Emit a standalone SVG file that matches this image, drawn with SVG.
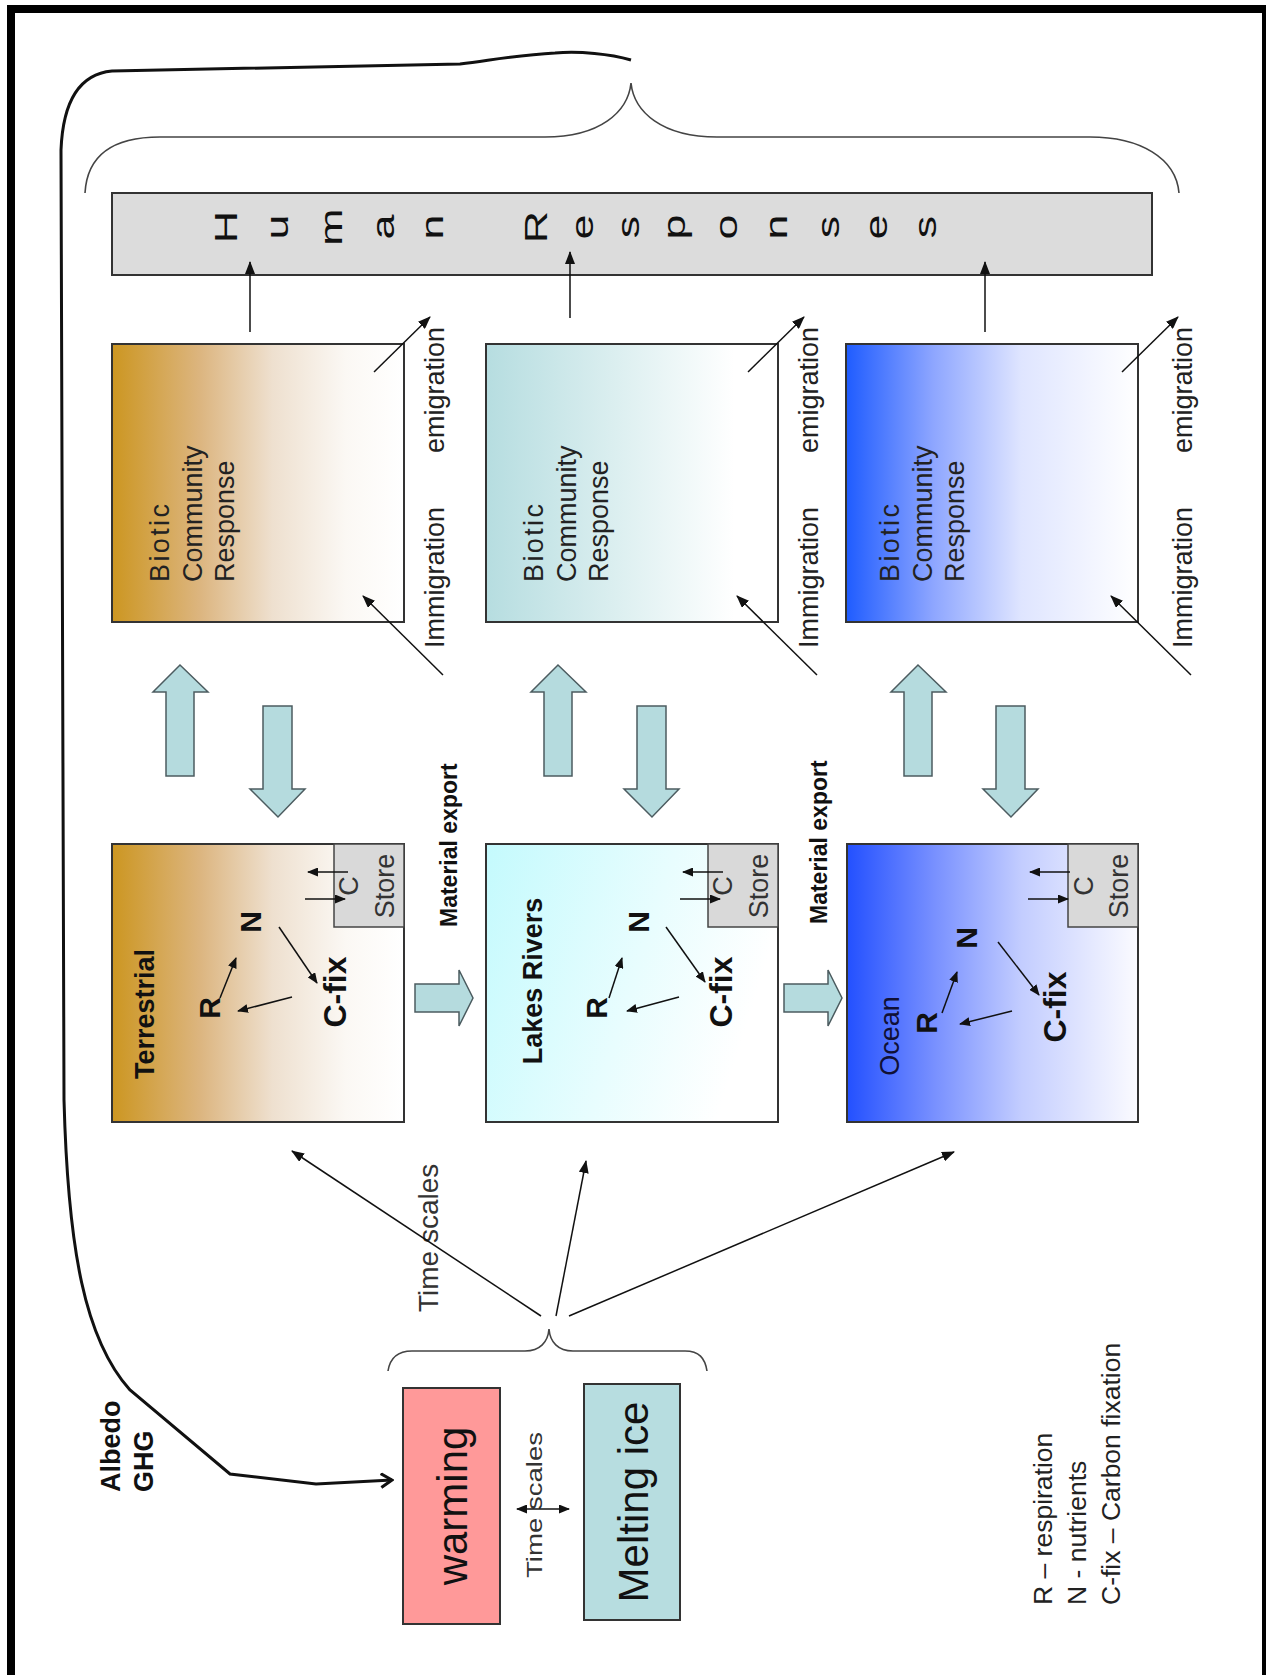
<svg xmlns="http://www.w3.org/2000/svg" width="1266" height="1675" viewBox="0 0 1266 1675">
<style>
.t{font-family:"Liberation Sans",Arial,sans-serif}
.b{font-weight:bold}
.box{stroke:#333;stroke-width:2}
.ln{stroke:#111;stroke-width:1.5;fill:none}
.blk{fill:#b5dbde;stroke:#4c5c60;stroke-width:1.5}
.br{fill:none;stroke:#444;stroke-width:1.6}
.hr{font-size:32px;fill:#111}
.bio{font-size:27px;fill:#222}
.mig{font-size:27px;fill:#222}
.rn{font-size:30px;fill:#111;font-weight:bold}
.cf{font-size:32px;fill:#111;font-weight:bold}
.cs{font-size:27px;fill:#333}
.store{fill:#d9d9d9;stroke:#444;stroke-width:1.5}
</style>
<defs>
<marker id="ah" markerWidth="13" markerHeight="10" refX="12" refY="5" orient="auto" markerUnits="userSpaceOnUse"><path d="M0,0 L13,5 L0,10 Z" fill="#111"/></marker>
<marker id="ahs" markerWidth="11" markerHeight="9" refX="10" refY="4.5" orient="auto-start-reverse" markerUnits="userSpaceOnUse"><path d="M0,0 L11,4.5 L0,9 Z" fill="#111"/></marker>
<marker id="ahv" markerWidth="14" markerHeight="16" refX="12" refY="8" orient="auto" markerUnits="userSpaceOnUse"><path d="M1,1 L12,8 L1,15" fill="none" stroke="#111" stroke-width="3"/></marker>
<linearGradient id="gGold" x1="0" y1="0" x2="1" y2="0"><stop offset="0" stop-color="#cc9621"/><stop offset="0.3" stop-color="#dcb57f"/><stop offset="0.55" stop-color="#eee0cf"/><stop offset="0.8" stop-color="#fbf8f4"/><stop offset="1" stop-color="#ffffff"/></linearGradient>
<linearGradient id="gTeal" x1="0" y1="0" x2="1" y2="0"><stop offset="0" stop-color="#b6dde0"/><stop offset="0.45" stop-color="#dceff0"/><stop offset="0.85" stop-color="#ffffff"/></linearGradient>
<linearGradient id="gBlue" x1="0" y1="0" x2="1" y2="0"><stop offset="0" stop-color="#1f5cff"/><stop offset="0.3" stop-color="#8ea6ff"/><stop offset="0.6" stop-color="#dfe5ff"/><stop offset="1" stop-color="#ffffff"/></linearGradient>
<linearGradient id="gCyan" x1="0" y1="0" x2="1" y2="0.3"><stop offset="0" stop-color="#c4fafd"/><stop offset="0.6" stop-color="#e8fdfe"/><stop offset="1" stop-color="#ffffff"/></linearGradient>
<linearGradient id="gOcean" x1="0" y1="0" x2="1" y2="0"><stop offset="0" stop-color="#2350ff"/><stop offset="0.3" stop-color="#7890ff"/><stop offset="0.6" stop-color="#c3cdff"/><stop offset="1" stop-color="#fbfbff"/></linearGradient>
</defs>

<rect width="1266" height="1675" fill="#fff"/>
<g id="frame">
<rect x="7" y="5" width="8" height="1670" fill="#000"/>
<rect x="7" y="5" width="1259" height="8" fill="#000"/>
<rect x="1262" y="5" width="4" height="1670" fill="#000"/>
</g>

<g id="braces">
<path class="br" d="M85,193 C87,158 110,137 160,137 L545,137 C600,137 628,112 631,83 C634,112 662,137 717,137 L1090,137 C1140,137 1176,158 1179,193"/>
<path class="br" d="M388,1371 C390,1358 398,1351 412,1351 L525,1351 C540,1351 548,1342 549,1329 C550,1342 558,1351 573,1351 L685,1351 C699,1351 705,1358 707,1371"/>
</g>

<g id="human-responses">
<rect class="box" x="112" y="193" width="1040" height="82" fill="#dcdcdc"/>
<g class="t hr" text-anchor="middle">
<text transform="translate(237,227) rotate(-90) scale(1.4,1)">H</text>
<text transform="translate(288,227) rotate(-90) scale(1.4,1)">u</text>
<text transform="translate(342,227) rotate(-90) scale(1.4,1)">m</text>
<text transform="translate(394,227) rotate(-90) scale(1.4,1)">a</text>
<text transform="translate(443,227) rotate(-90) scale(1.4,1)">n</text>
<text transform="translate(547,227) rotate(-90) scale(1.4,1)">R</text>
<text transform="translate(593,227) rotate(-90) scale(1.4,1)">e</text>
<text transform="translate(639,227) rotate(-90) scale(1.4,1)">s</text>
<text transform="translate(685,227) rotate(-90) scale(1.4,1)">p</text>
<text transform="translate(737,227) rotate(-90) scale(1.4,1)">o</text>
<text transform="translate(787,227) rotate(-90) scale(1.4,1)">n</text>
<text transform="translate(839,227) rotate(-90) scale(1.4,1)">s</text>
<text transform="translate(887,227) rotate(-90) scale(1.4,1)">e</text>
<text transform="translate(936,227) rotate(-90) scale(1.4,1)">s</text>
</g>
</g>

<g id="biotic-terrestrial">
<rect class="box" x="112" y="344" width="292" height="278" fill="url(#gGold)"/>
<g class="t bio"><text textLength="78" lengthAdjust="spacing" transform="translate(169,582) rotate(-90)">Biotic</text><text transform="translate(202,582) rotate(-90)">Community</text><text transform="translate(234,582) rotate(-90)">Response</text></g>
</g>
<g id="biotic-lakes">
<rect class="box" x="486" y="344" width="292" height="278" fill="url(#gTeal)"/>
<g class="t bio"><text textLength="78" lengthAdjust="spacing" transform="translate(543,582) rotate(-90)">Biotic</text><text transform="translate(576,582) rotate(-90)">Community</text><text transform="translate(608,582) rotate(-90)">Response</text></g>
</g>
<g id="biotic-ocean">
<rect class="box" x="846" y="344" width="292" height="278" fill="url(#gBlue)"/>
<g class="t bio"><text textLength="78" lengthAdjust="spacing" transform="translate(899,582) rotate(-90)">Biotic</text><text transform="translate(932,582) rotate(-90)">Community</text><text transform="translate(964,582) rotate(-90)">Response</text></g>
</g>

<g id="migration-labels" class="t mig">
<text transform="translate(444,648) rotate(-90)">Immigration</text>
<text transform="translate(444,453) rotate(-90)">emigration</text>
<text transform="translate(818,648) rotate(-90)">Immigration</text>
<text transform="translate(818,453) rotate(-90)">emigration</text>
<text transform="translate(1192,648) rotate(-90)">Immigration</text>
<text transform="translate(1192,453) rotate(-90)">emigration</text>
</g>

<g id="eco-terrestrial">
<rect class="box" x="112" y="844" width="292" height="278" fill="url(#gGold)"/>
<rect class="store" x="334" y="844" width="70" height="83"/>
<text class="t cs" text-anchor="middle" transform="translate(358,886) rotate(-90)">C</text>
<text class="t cs" text-anchor="middle" transform="translate(394,886) rotate(-90)">Store</text>
<text class="t b" font-size="27" fill="#111" text-anchor="middle" transform="translate(154,1014) rotate(-90)">Terrestrial</text>
<text class="t rn" text-anchor="middle" transform="translate(261,922) rotate(-90)">N</text>
<text class="t rn" text-anchor="middle" transform="translate(220,1008) rotate(-90)">R</text>
<text class="t cf" text-anchor="middle" transform="translate(346,992) rotate(-90)">C-fix</text>
</g>
<g id="eco-lakes">
<rect class="box" x="486" y="844" width="292" height="278" fill="url(#gCyan)"/>
<rect class="store" x="708" y="844" width="70" height="83"/>
<text class="t cs" text-anchor="middle" transform="translate(732,886) rotate(-90)">C</text>
<text class="t cs" text-anchor="middle" transform="translate(768,886) rotate(-90)">Store</text>
<text class="t b" font-size="27" fill="#111" text-anchor="middle" transform="translate(542,981) rotate(-90)">Lakes Rivers</text>
<text class="t rn" text-anchor="middle" transform="translate(649,922) rotate(-90)">N</text>
<text class="t rn" text-anchor="middle" transform="translate(607,1008) rotate(-90)">R</text>
<text class="t cf" text-anchor="middle" transform="translate(732,992) rotate(-90)">C-fix</text>
</g>
<g id="eco-ocean">
<rect class="box" x="847" y="844" width="291" height="278" fill="url(#gOcean)"/>
<rect class="store" x="1068" y="844" width="70" height="83"/>
<text class="t cs" text-anchor="middle" transform="translate(1093,886) rotate(-90)">C</text>
<text class="t cs" text-anchor="middle" transform="translate(1128,886) rotate(-90)">Store</text>
<text class="t" font-size="27" fill="#101035" text-anchor="middle" transform="translate(899,1036) rotate(-90)">Ocean</text>
<text class="t rn" text-anchor="middle" transform="translate(977,938) rotate(-90)">N</text>
<text class="t rn" text-anchor="middle" transform="translate(937,1023) rotate(-90)">R</text>
<text class="t cf" text-anchor="middle" transform="translate(1066,1007) rotate(-90)">C-fix</text>
</g>

<g id="material-export" class="t b" font-size="23" fill="#111">
<text transform="translate(457,927) rotate(-90)">Material export</text>
<text transform="translate(827,924) rotate(-90)">Material export</text>
</g>

<g id="warming">
<rect class="box" x="403" y="1388" width="97" height="236" fill="#ff9999"/>
<text class="t" font-size="42" fill="#111" text-anchor="middle" transform="translate(467,1506) rotate(-90)">warming</text>
</g>
<g id="melting-ice">
<rect class="box" x="584" y="1384" width="96" height="236" fill="#b7dde0"/>
<text class="t" font-size="42" fill="#111" text-anchor="middle" transform="translate(648,1502) rotate(-90)">Melting ice</text>
</g>

<g id="labels" class="t">
<text font-size="28" fill="#333" transform="translate(438,1312) rotate(-90)">Time scales</text>
<text font-size="22" fill="#333" textLength="146" lengthAdjust="spacingAndGlyphs" transform="translate(542,1578) rotate(-90)">Time scales</text>
<text class="b" font-size="27" fill="#111" transform="translate(120,1492) rotate(-90)">Albedo</text>
<text class="b" font-size="27" fill="#111" transform="translate(153,1492) rotate(-90)">GHG</text>
</g>
<g id="legend" class="t" font-size="26.5" fill="#222">
<text transform="translate(1052,1605) rotate(-90)">R – respiration</text>
<text transform="translate(1086,1605) rotate(-90)">N - nutrients</text>
<text transform="translate(1120,1605) rotate(-90)">C-fix – Carbon fixation</text>
</g>

<g id="connectors">
<path d="M631,60 C610,54 580,51 555,53 C520,55 505,58 460,64 L112,71 C80,74 63,100 61,150 L64,1100 C68,1250 85,1340 130,1390 L230,1474 L316,1484 L392,1480" fill="none" stroke="#111" stroke-width="3" marker-end="url(#ahv)"/>
<line class="ln" x1="250" y1="332" x2="250" y2="262" marker-end="url(#ah)"/>
<line class="ln" x1="570" y1="318" x2="570" y2="252" marker-end="url(#ah)"/>
<line class="ln" x1="985" y1="332" x2="985" y2="262" marker-end="url(#ah)"/>
<line class="ln" x1="443" y1="675" x2="363" y2="596" marker-end="url(#ah)"/>
<line class="ln" x1="374" y1="372" x2="430" y2="317" marker-end="url(#ah)"/>
<line class="ln" x1="817" y1="675" x2="737" y2="596" marker-end="url(#ah)"/>
<line class="ln" x1="748" y1="372" x2="804" y2="317" marker-end="url(#ah)"/>
<line class="ln" x1="1191" y1="675" x2="1111" y2="596" marker-end="url(#ah)"/>
<line class="ln" x1="1122" y1="372" x2="1178" y2="317" marker-end="url(#ah)"/>
<path class="blk" d="M166,776 L166,692 L153,692 L180,665 L208,692 L194,692 L194,776 Z"/>
<path class="blk" d="M263,706 L292,706 L292,789 L305,789 L278,817 L250,789 L263,789 Z"/>
<path class="blk" d="M544,776 L544,692 L531,692 L558,665 L586,692 L572,692 L572,776 Z"/>
<path class="blk" d="M637,706 L666,706 L666,789 L679,789 L652,817 L624,789 L637,789 Z"/>
<path class="blk" d="M904,776 L904,692 L891,692 L918,665 L946,692 L932,692 L932,776 Z"/>
<path class="blk" d="M996,706 L1025,706 L1025,789 L1038,789 L1011,817 L983,789 L996,789 Z"/>
<path class="blk" d="M415,984 L459,984 L459,970 L473,998 L459,1026 L459,1012 L415,1012 Z"/>
<path class="blk" d="M784,984 L828,984 L828,970 L842,998 L828,1026 L828,1012 L784,1012 Z"/>
<line class="ln" x1="348" y1="872" x2="308" y2="872" marker-end="url(#ahs)"/>
<line class="ln" x1="305" y1="899" x2="345" y2="899" marker-end="url(#ahs)"/>
<line class="ln" x1="723" y1="872" x2="683" y2="872" marker-end="url(#ahs)"/>
<line class="ln" x1="680" y1="899" x2="720" y2="899" marker-end="url(#ahs)"/>
<line class="ln" x1="1070" y1="872" x2="1030" y2="872" marker-end="url(#ahs)"/>
<line class="ln" x1="1028" y1="899" x2="1068" y2="899" marker-end="url(#ahs)"/>
<line class="ln" x1="279" y1="927" x2="317" y2="983" marker-end="url(#ahs)"/>
<line class="ln" x1="220" y1="998" x2="236" y2="958" marker-end="url(#ahs)"/>
<line class="ln" x1="292" y1="997" x2="238" y2="1011" marker-end="url(#ahs)"/>
<line class="ln" x1="666" y1="927" x2="705" y2="982" marker-end="url(#ahs)"/>
<line class="ln" x1="609" y1="998" x2="622" y2="958" marker-end="url(#ahs)"/>
<line class="ln" x1="679" y1="997" x2="627" y2="1011" marker-end="url(#ahs)"/>
<line class="ln" x1="998" y1="942" x2="1039" y2="995" marker-end="url(#ahs)"/>
<line class="ln" x1="942" y1="1013" x2="957" y2="972" marker-end="url(#ahs)"/>
<line class="ln" x1="1012" y1="1011" x2="960" y2="1024" marker-end="url(#ahs)"/>
<line class="ln" x1="541" y1="1316" x2="292" y2="1151" marker-end="url(#ah)"/>
<line class="ln" x1="556" y1="1316" x2="586" y2="1161" marker-end="url(#ah)"/>
<line class="ln" x1="569" y1="1316" x2="954" y2="1152" marker-end="url(#ah)"/>
<line class="ln" x1="517" y1="1509" x2="569" y2="1509" marker-start="url(#ahs)" marker-end="url(#ahs)"/>
</g>
</svg>
